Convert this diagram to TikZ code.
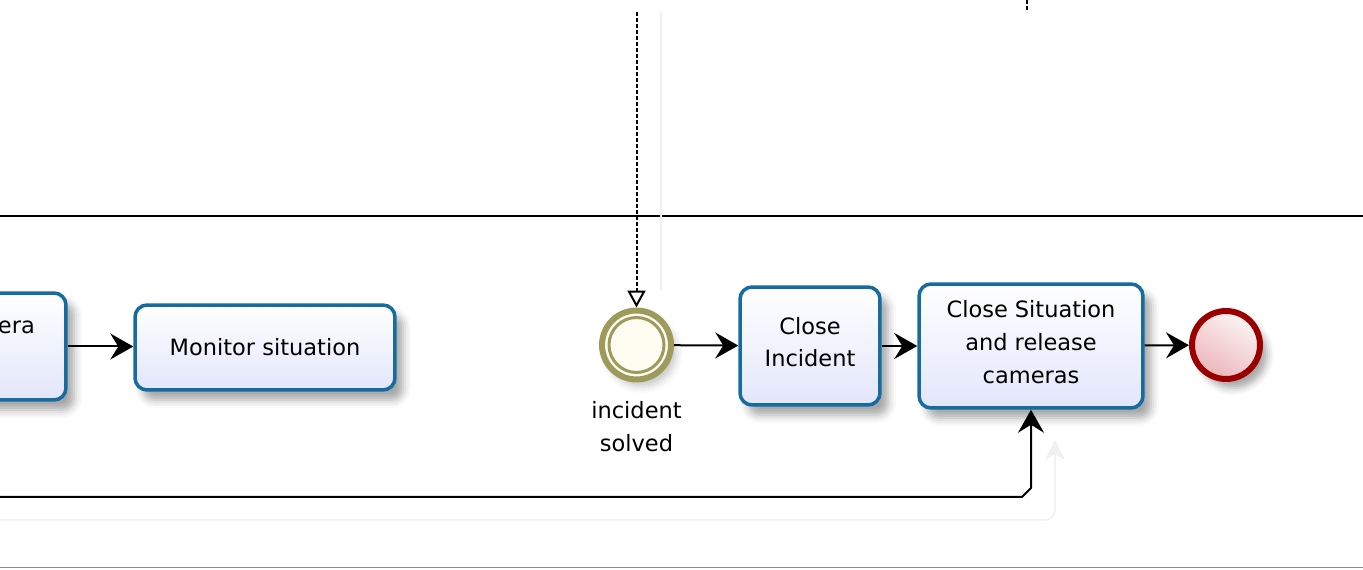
\documentclass[tikz,border=0pt]{standalone}
\usepackage{fontspec}
\setmainfont{DejaVu Sans}
\usetikzlibrary{arrows.meta,positioning,shadows.blur}
\definecolor{TaskLine}{RGB}{22,108,158}
\definecolor{TaskFill}{RGB}{226,230,250}
\definecolor{EventLine}{RGB}{158,154,92}
\definecolor{EventFill}{RGB}{255,252,242}
\definecolor{EndLine}{RGB}{155,0,0}
\definecolor{EndFill}{RGB}{236,182,186}
\begin{document}
\begin{tikzpicture}[x=0.02cm,y=-0.02cm,every node/.style={font=\fontsize{12.8}{18.7}\selectfont,align=center},task/.style={draw=TaskLine,line width=0.07cm,rounded corners=0.24cm,top color=white,bottom color=TaskFill,blur shadow={shadow xshift=0.16cm,shadow yshift=-0.2cm,shadow blur radius=0.16cm,shadow opacity=35}},evt/.style={circle,draw=EventLine,line width=0.12cm,fill=EventFill,minimum size=1.38cm,blur shadow={shadow xshift=0.1cm,shadow yshift=-0.14cm,shadow blur radius=0.14cm,shadow opacity=22}},endevt/.style={circle,draw=EndLine,line width=0.12cm,top color=white!85!EndFill,bottom color=EndFill,shading angle=-30,minimum size=1.36cm,blur shadow={shadow xshift=0.14cm,shadow yshift=-0.18cm,shadow blur radius=0.14cm,shadow opacity=35}},flow/.style={-{Stealth[length=0.46cm,width=0.52cm,inset=0.16cm]},line width=0.04cm},msg/.style={-{Triangle[open,length=0.34cm,width=0.36cm]},line width=0.04cm,dash pattern=on 0.08cm off 0.04cm},ghost/.style={black!6,line width=0.03cm}]
\useasboundingbox (0,0) rectangle (1363,570);
\draw[line width=0.03cm] (0,216) -- (1363,216);
\draw[black!45,line width=0.02cm] (0,568) -- (1363,568);
\draw[ghost] (661,12) -- (661,290);
\draw[ghost,rounded corners=0.2cm,-{Stealth[length=0.4cm,width=0.4cm,inset=0.12cm]}] (0,520) -- (1055,520) -- (1055,440);
\node[task,minimum width=4.24cm,minimum height=2.14cm] (cam) at (-40,346.5) {};
\node[anchor=east] (camtxt) at (41,327) {era};
\node[task,minimum width=5.2cm,minimum height=1.7cm] (mon) at (265,347.5) {Monitor situation};
\node[evt] (ev) at (636.5,345) {};
\draw[EventLine,line width=0.06cm] (ev.center) circle[radius=0.55cm];
\node[below=0.26cm of ev] (evlbl) {incident\\solved};
\node[task,minimum width=2.8cm,minimum height=2.36cm,text depth=0.16cm] (ci) at (810,346) {Close\\Incident};
\node[task,minimum width=4.48cm,minimum height=2.48cm,text depth=0.16cm] (cs) at (1031,346) {Close Situation\\and release\\cameras};
\node[endevt] (stop) at (1226,345) {};
\coordinate (msgin) at (636.5,12);
\coordinate (msgout) at (1027,0);
\coordinate (msgend) at (1027,12);
\coordinate (back) at (0,497);
\draw[flow] (cam.east) -- (cam.east -| mon.west);
\draw[msg] (msgin) -- (ev.north);
\draw[line width=0.04cm,dash pattern=on 0.08cm off 0.04cm] (msgout) -- (msgend);
\draw[flow] (ev) -- (ci); \draw[flow] (ci) -- (cs); \draw[flow] (cs) -- (stop);
\draw[flow] (back) -- (1022,497) -- (1031,488) -- (cs.south);
\end{tikzpicture}
\end{document}
